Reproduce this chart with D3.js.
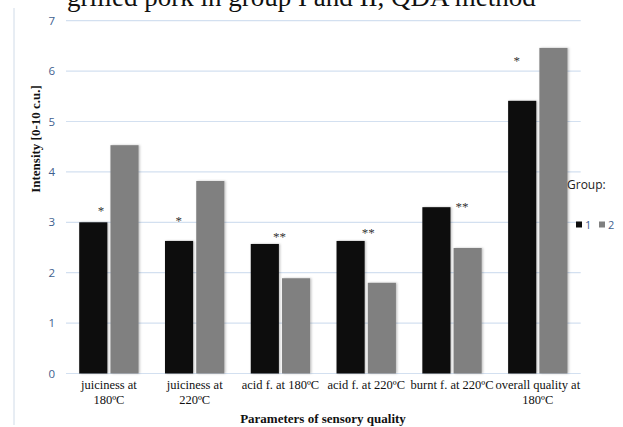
<!DOCTYPE html>
<html><head><meta charset="utf-8">
<script src="https://cdn.jsdelivr.net/npm/d3@7"></script>
<style>body{margin:0;background:#fff}svg{display:block}</style>
</head><body>
<script>
const categories = [["juiciness at","180ºC"],["juiciness at","220ºC"],["acid f. at 180ºC"],["acid f. at 220ºC"],["burnt f. at 220ºC"],["overall quality at","180ºC"]];
const group1 = [3.0, 2.63, 2.57, 2.63, 3.30, 5.41];
const group2 = [4.53, 3.82, 1.89, 1.80, 2.49, 6.46];
const seriesNames = ["1","2"];
const yTicks = [0,1,2,3,4,5,6,7];
const sigLabels = ["*","*","**","**","**","*"];
const sigLevels = [3.33, 3.12, 2.81, 2.89, 3.41, 6.31];

const W = 623, H = 427;
const svg = d3.select("body").append("svg").attr("width", W).attr("height", H);
const defs = svg.append("defs");
const f = defs.append("filter").attr("id","sh").attr("x","-20%").attr("width","150%");
f.append("feDropShadow").attr("dx",1.2).attr("dy",0).attr("stdDeviation",0.8).attr("flood-color","#000").attr("flood-opacity",0.25);

// chart border (left visible)
svg.append("line").attr("x1",14).attr("x2",14).attr("y1",8).attr("y2",425).attr("stroke","#d0dbe8").attr("stroke-width",1);

const x = d3.scaleBand().domain(d3.range(categories.length)).range([66, 580.7]);
const y = d3.scaleLinear().domain([0,7]).range([373.5, 20.7]);
const inner = d3.scaleBand().domain([0,1]).range([13.2, x.bandwidth()-13.2]).paddingInner(0.1);

// gridlines
svg.append("g").selectAll("line").data(yTicks).join("line")
  .attr("x1",66).attr("x2",580.7).attr("y1",d=>y(d)).attr("y2",d=>y(d))
  .attr("stroke","#d3e0f0").attr("stroke-width",1.2);

// y tick labels
svg.append("g").selectAll("text").data(yTicks).join("text")
  .attr("x",55).attr("y",d=>y(d)).attr("dy","0.35em").attr("text-anchor","end")
  .attr("font-family","'Open Sans', 'Liberation Sans', sans-serif").attr("font-size",11.5)
  .attr("fill","#3f5f8f").text(d=>d);

// bars
const colors = ["#0e0e0e","#808080"];
[group1, group2].forEach((s,si)=>{
  svg.append("g").selectAll("rect").data(s).join("rect")
    .attr("x",(d,i)=>x(i)+inner(si)).attr("width",inner.bandwidth())
    .attr("y",d=>y(d)).attr("height",d=>y(0)-y(d))
    .attr("fill",colors[si]).attr("filter","url(#sh)");
});

// significance labels
const sigOffsets = [-8,-16,-1,2,10,-21];
svg.append("g").selectAll("text").data(sigLabels).join("text")
  .attr("x",(d,i)=>x(i)+x.bandwidth()/2+sigOffsets[i]).attr("y",(d,i)=>y(sigLevels[i]))
  .attr("dy","0.7em").attr("text-anchor","middle")
  .attr("font-family","'Liberation Serif', serif").attr("font-size",13)
  .attr("fill","#333").text(d=>d);

// x labels
const xl = svg.append("g").selectAll("text").data(categories).join("text")
  .attr("text-anchor","middle").attr("font-family","'Liberation Serif', serif").attr("font-size",12.5)
  .attr("fill","#111");
xl.each(function(lines,i){
  const t = d3.select(this);
  lines.forEach((ln,j)=>{
    t.append("tspan").attr("x",x(i)+x.bandwidth()/2).attr("y",389+j*15).text(ln);
  });
});

// axis titles
svg.append("text").attr("x",323).attr("y",423).attr("text-anchor","middle")
  .attr("font-family","'Liberation Serif', serif").attr("font-size",13).attr("font-weight","bold")
  .attr("fill","#111").text("Parameters  of  sensory quality");
svg.append("text").attr("transform","translate(40,139) rotate(-90)").attr("text-anchor","middle")
  .attr("font-family","'Liberation Serif', serif").attr("font-size",13).attr("font-weight","bold")
  .attr("fill","#111").text("Intensity  [0-10 c.u.]");

// title (clipped at top, as in the reference)
svg.append("text").attr("x",67).attr("y",6)
  .attr("font-family","'Liberation Serif', serif").attr("font-size",27)
  .attr("fill","#111").text("grilled  pork  in  group I and II, QDA  method");

// legend
svg.append("text").attr("x",567).attr("y",189)
  .attr("font-family","'Open Sans', 'Liberation Sans', sans-serif").attr("font-size",12)
  .attr("fill","#222").text("Group:");
const lg = svg.append("g").selectAll("g").data(seriesNames).join("g")
  .attr("transform",(d,i)=>`translate(${576+i*23},225)`);
lg.append("rect").attr("x",0).attr("y",-3.5).attr("width",6).attr("height",6).attr("fill",(d,i)=>colors[i]);
lg.append("text").attr("x",9).attr("y",0).attr("dy","0.35em")
  .attr("font-family","'Open Sans', 'Liberation Sans', sans-serif").attr("font-size",11)
  .attr("fill","#3f5f8f").text(d=>d);
</script>
</body></html>
